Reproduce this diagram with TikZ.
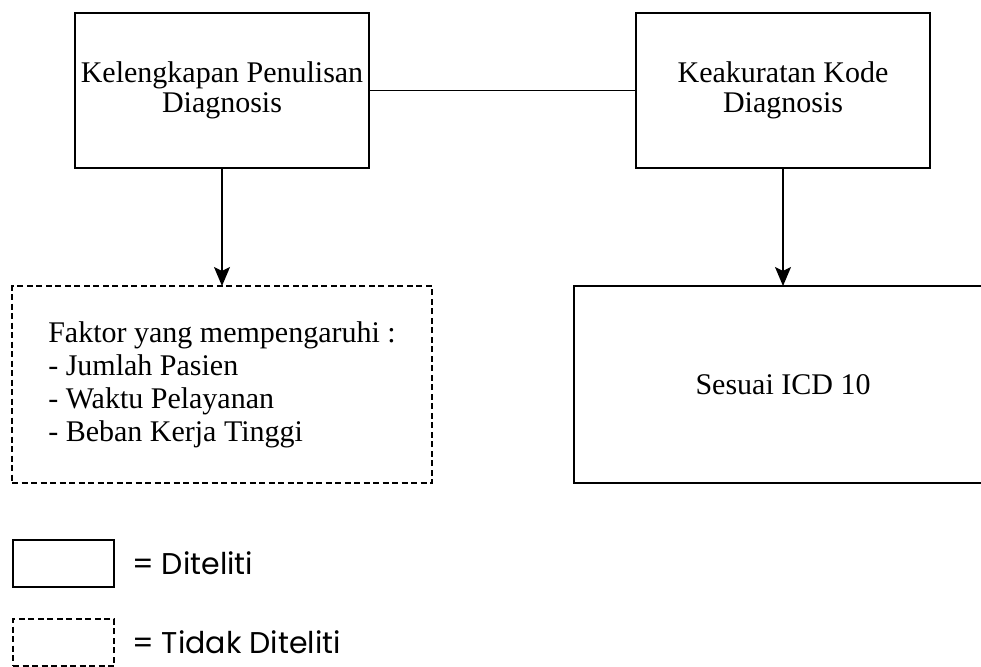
\documentclass[tikz,border=0pt]{standalone}
\usepackage{fontspec}
\setmainfont{Liberation Serif}
\newfontfamily\legendfont{Poppins}
\usetikzlibrary{positioning,arrows.meta,backgrounds}

\begin{document}
\begin{tikzpicture}[
	x=1pt, y=-1pt,
	node distance = 118pt,
	font=\fontsize{30}{30}\selectfont,
	MyBox/.style={draw, line width=1.3pt, outer sep=0pt, align=center},
	MyDashBox/.style={MyBox, dash pattern=on 6pt off 3.5pt},
	MyLegend/.style={inner sep=0pt, font=\legendfont\fontsize{30}{30}\selectfont},
	]
	\useasboundingbox (0,0) rectangle (981,666);
	\node [MyBox, minimum width=294pt, minimum height=155pt] (1) at (222,90.5) {Kelengkapan Penulisan\\Diagnosis};
	\node [MyBox, minimum width=294pt, minimum height=155pt, right=267pt of 1] (2) {Keakuratan Kode\\Diagnosis};
	\node [MyDashBox, align=left, minimum width=420pt, minimum height=197pt, below=of 1,
		font=\fontsize{30}{33}\selectfont] (3)
		{Faktor yang mempengaruhi :\\- Jumlah Pasien\\- Waktu Pelayanan\\- Beban Kerja Tinggi};
	\node [MyBox, minimum width=418pt, minimum height=197pt, below=of 2] (4) {Sesuai ICD 10};
	\draw [line width=1.3pt] (1) -- (2);
	\begin{scope}[line width=1.3pt, -{Stealth[length=19pt, width=16pt, inset=4pt]}]
	\draw (1.south) -- (3.north);
	\draw (2.south) -- (4.north);
	\end{scope}
	% keterangan
	\node [MyBox, minimum width=101pt, minimum height=47pt, anchor=north west] (5) at (13,540) {};
	\node [MyDashBox, minimum width=101pt, minimum height=47pt, anchor=north west] (6) at (13,619) {};
	\node [MyLegend, right=18pt of 5] (7) {= Diteliti};
	\node [MyLegend, right=18pt of 6] (8) {= Tidak Diteliti};
	
	\begin{pgfonlayer}{background}
	\fill [white] (0,0) rectangle (981,666);
	\end{pgfonlayer}
\end{tikzpicture}
\end{document}
